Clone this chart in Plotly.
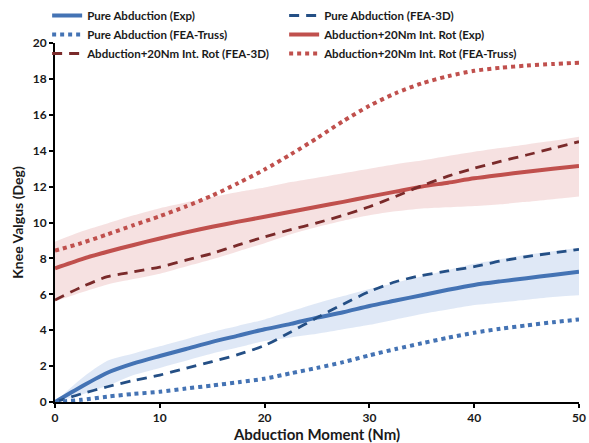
import plotly.graph_objects as go

moment = [0, 2.5, 5, 7.5, 10, 12.5, 15, 17.5, 20, 22.5, 25, 27.5, 30, 32.5, 35, 37.5, 40, 42.5, 45, 47.5, 50]

pure_exp = [0, 0.85, 1.63, 2.15, 2.56, 2.95, 3.35, 3.7, 4.05, 4.35, 4.7, 5.0, 5.35, 5.65, 5.95, 6.25, 6.52, 6.72, 6.9, 7.08, 7.26]
pure_exp_upper = [0, 1.3, 2.3, 2.7, 3.1, 3.5, 3.9, 4.25, 4.6, 5.05, 5.5, 5.9, 6.3, 6.65, 7.0, 7.35, 7.7, 7.95, 8.2, 8.4, 8.6]
pure_exp_lower = [0, 0.4, 0.9, 1.5, 1.9, 2.3, 2.7, 3.05, 3.4, 3.6, 3.8, 4.05, 4.3, 4.6, 4.9, 5.15, 5.4, 5.55, 5.7, 5.85, 5.95]
pure_3d = [0, 0.45, 0.85, 1.2, 1.5, 1.88, 2.25, 2.65, 3.15, 3.9, 4.7, 5.45, 6.15, 6.7, 7.05, 7.3, 7.54, 7.85, 8.1, 8.3, 8.5]
pure_truss = [0, 0.12, 0.3, 0.45, 0.57, 0.75, 0.92, 1.1, 1.3, 1.6, 1.9, 2.22, 2.6, 2.95, 3.27, 3.58, 3.86, 4.08, 4.27, 4.44, 4.6]

rot_exp = [7.45, 7.95, 8.37, 8.75, 9.11, 9.45, 9.76, 10.05, 10.32, 10.6, 10.88, 11.15, 11.44, 11.72, 12.0, 12.22, 12.46, 12.65, 12.83, 13.0, 13.15]
rot_exp_upper = [8.93, 9.5, 9.95, 10.4, 10.8, 11.12, 11.42, 11.7, 11.95, 12.25, 12.5, 12.75, 13.0, 13.25, 13.45, 13.7, 13.94, 14.15, 14.35, 14.55, 14.78]
rot_exp_lower = [5.6, 6.1, 6.55, 6.85, 7.15, 7.55, 7.95, 8.4, 8.85, 9.35, 9.75, 10.1, 10.4, 10.62, 10.78, 10.85, 10.92, 11.02, 11.15, 11.3, 11.45]
rot_3d = [5.68, 6.4, 6.98, 7.25, 7.52, 7.9, 8.28, 8.75, 9.2, 9.6, 9.98, 10.4, 10.88, 11.45, 12.05, 12.58, 13.02, 13.4, 13.76, 14.13, 14.5]
rot_truss = [8.43, 8.85, 9.34, 9.85, 10.35, 10.9, 11.5, 12.2, 12.95, 13.8, 14.7, 15.65, 16.5, 17.2, 17.75, 18.15, 18.45, 18.62, 18.74, 18.83, 18.9]

BLUE = "#4473b4"
BLUE_DARK = "#244f85"
RED = "#c0504d"
RED_DARK = "#7a2a2a"
BLUE_BAND = "rgba(196,214,238,0.55)"
RED_BAND = "rgba(238,196,196,0.5)"

fig = go.Figure()

# shaded bands
for lo, up, col in [(pure_exp_lower, pure_exp_upper, BLUE_BAND), (rot_exp_lower, rot_exp_upper, RED_BAND)]:
    fig.add_trace(go.Scatter(x=moment, y=lo, mode="lines", line=dict(width=0, shape="spline", smoothing=0.7),
                             showlegend=False, hoverinfo="skip"))
    fig.add_trace(go.Scatter(x=moment, y=up, mode="lines", line=dict(width=0, shape="spline", smoothing=0.7),
                             fill="tonexty", fillcolor=col, showlegend=False, hoverinfo="skip"))

series = [
    ("Pure Abduction (Exp)", pure_exp, BLUE, "solid", 4),
    ("Pure Abduction (FEA-3D)", pure_3d, BLUE_DARK, "10px,7px", 2.8),
    ("Pure Abduction (FEA-Truss)", pure_truss, BLUE, "4px,4px", 4),
    ("Abduction+20Nm Int. Rot (Exp)", rot_exp, RED, "solid", 4),
    ("Abduction+20Nm Int. Rot (FEA-3D)", rot_3d, RED_DARK, "10px,7px", 2.8),
    ("Abduction+20Nm Int. Rot (FEA-Truss)", rot_truss, RED, "4px,4px", 4),
]
for name, ys, col, dash, w in series:
    fig.add_trace(go.Scatter(x=moment, y=ys, mode="lines", name=name,
                             line=dict(color=col, width=w, dash=dash, shape="spline", smoothing=0.7)))

axis_font = dict(family="Lato, Open Sans, sans-serif", size=12, color="#1a1a1a", weight="bold")

fig.update_layout(
    width=589, height=443,
    margin=dict(l=55, r=10, t=43, b=41, autoexpand=False),
    paper_bgcolor="white", plot_bgcolor="white",
    font=dict(family="Lato, Open Sans, sans-serif", color="#1a1a1a"),
    showlegend=True,
    legend=dict(orientation="h", x=-0.015, y=1.117, xanchor="left", yanchor="top",
                entrywidth=192, entrywidthmode="pixels", traceorder="normal",
                font=dict(family="Lato, sans-serif", size=11.5, color="#1a1a1a", weight="bold"),
                bgcolor="rgba(0,0,0,0)", itemwidth=30, tracegroupgap=0),
    xaxis=dict(range=[0, 50], dtick=10, showgrid=False, zeroline=False,
               showline=True, linecolor="black", linewidth=2, ticks="outside", ticklen=4,
               tickcolor="black", tickwidth=2, tickfont=axis_font,
               title=dict(text="Abduction Moment (Nm)", standoff=2,
                          font=dict(family="Lato, sans-serif", size=15, color="#1a1a1a", weight="bold"))),
    yaxis=dict(range=[0, 20], dtick=2, showgrid=False, zeroline=False,
               showline=True, linecolor="black", linewidth=2, ticks="outside", ticklen=4,
               tickcolor="black", tickwidth=2, tickfont=axis_font,
               title=dict(text="Knee Valgus (Deg)", standoff=6,
                          font=dict(family="Lato, sans-serif", size=14, color="#1a1a1a", weight="bold"))),
)

fig.write_html("out.html", config={"displayModeBar": False},
               post_script="document.body.style.margin='0px';document.body.style.overflow='hidden';")
